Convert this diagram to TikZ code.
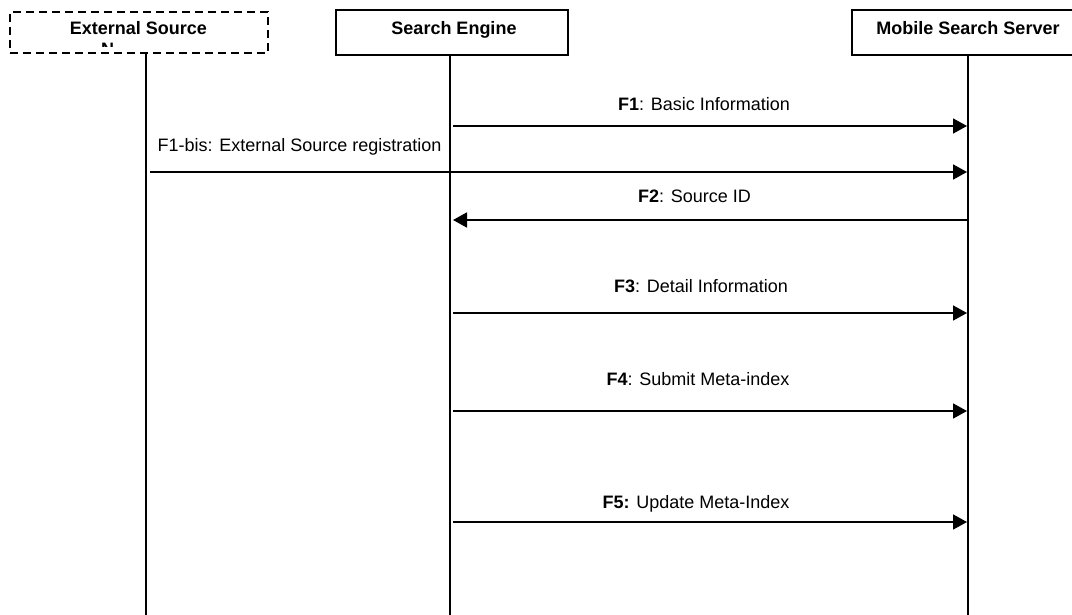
\documentclass[tikz,border=0pt]{standalone}
\usepackage{fontspec}
\setmainfont{Liberation Sans}
\usetikzlibrary{arrows.meta}
\tikzset{
  actorbox/.style={draw, line width=1.4pt, inner sep=0pt},
  extbox/.style={actorbox, dash pattern=on 8pt off 5pt},
  actortext/.style={anchor=base, inner sep=0pt, font=\fontsize{18}{20}\selectfont\bfseries},
  lifeline/.style={line width=1.5pt},
  msg/.style={line width=1.8pt, -{Triangle[length=14pt,width=15pt]}},
  msgtext/.style={anchor=base, inner sep=0pt, font=\fontsize{18}{20}\selectfont}
}
\begin{document}
\begin{tikzpicture}[x=1pt,y=-1pt]
\useasboundingbox (0,0) rectangle (1072,615);
\clip (0,0) rectangle (1072,615);

% actor boxes
\node[extbox, minimum width=258pt, minimum height=41pt] (es) at (139,32.5) {};
\node[actorbox, minimum width=232pt, minimum height=45pt] (se) at (452,32.5) {};
\node[actorbox, minimum width=232pt, minimum height=45pt] (mss) at (968,32.5) {};

\node[actortext] (es-t) at (138.5,35) {External Source};
\node[actortext] (se-t) at (454,35) {Search Engine};
\node[actortext] (mss-t) at (968,35) {Mobile Search Server};

% second title line, cut off by the box text area
\begin{scope}
  \clip (95,40) rectangle (125,46.5);
  \node[actortext] (es-t2) at (107.5,56) {N};
\end{scope}

% lifelines
\coordinate (es-top) at (146,53);
\coordinate (se-top) at (450,55);
\coordinate (mss-top) at (968,55);
\coordinate (es-bot) at (146,615);
\coordinate (se-bot) at (450,615);
\coordinate (mss-bot) at (968,615);
\draw[lifeline] (es-top) -- (es-bot);
\draw[lifeline] (se-top) -- (se-bot);
\draw[lifeline] (mss-top) -- (mss-bot);

% message end points
\coordinate (f1a) at (453,126);   \coordinate (f1b) at (967,126);
\coordinate (f1ba) at (150,172);  \coordinate (f1bb) at (967,172);
\coordinate (f2a) at (967,220);   \coordinate (f2b) at (453,220);
\coordinate (f3a) at (453,313);   \coordinate (f3b) at (967,313);
\coordinate (f4a) at (453,411);   \coordinate (f4b) at (967,411);
\coordinate (f5a) at (453,522);   \coordinate (f5b) at (967,522);

% messages
\draw[msg] (f1a) -- (f1b);
\draw[msg] (f1ba) -- (f1bb);
\draw[msg] (f2a) -- (f2b);
\draw[msg] (f3a) -- (f3b);
\draw[msg] (f4a) -- (f4b);
\draw[msg] (f5a) -- (f5b);

% message labels
\node[msgtext] (l1) at (704,111) {\textbf{F1}: Basic Information};
\node[msgtext] (l1b) at (299.5,152) {F1-bis: External Source registration};
\node[msgtext] (l2) at (694.5,203) {\textbf{F2}: Source ID};
\node[msgtext] (l3) at (701,292) {\textbf{F3}: Detail Information};
\node[msgtext] (l4) at (698,385) {\textbf{F4}: Submit Meta-index};
\node[msgtext] (l5) at (696,508) {\textbf{F5:} Update Meta-Index};
\end{tikzpicture}
\end{document}
